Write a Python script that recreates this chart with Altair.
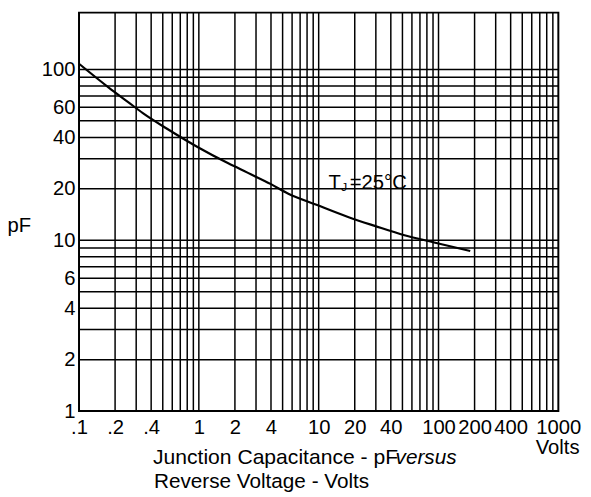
import altair as alt
import pandas as pd

# Curve (reverse voltage in V, junction capacitance in pF)
volts = [0.1, 0.176, 0.257, 0.341, 0.547, 1.0, 1.76, 2.57, 4.0, 5.53, 9.45, 17.8, 29.4, 52, 92, 184]
cap_pf = [108, 78.6, 64.4, 55.5, 44.8, 34.8, 28.2, 24.8, 21.3, 18.8, 16.2, 13.65, 12.14, 10.7, 9.71, 8.65]

# Log-paper grid lines
x_grid = [0.2, 0.3, 0.4, 0.5, 0.6, 0.7, 0.8, 0.9, 1,
          2, 3, 4, 5, 6, 7, 8, 9, 10,
          20, 30, 40, 50, 60, 70, 80, 90, 100,
          200, 300, 400, 500, 600, 700, 800, 900]
y_grid = [2, 3, 4, 5, 6, 7, 8, 9, 10,
          20, 30, 40, 50, 60, 70, 80, 90, 100]

# Tick labels
x_ticks = [0.1, 0.2, 0.4, 1, 2, 4, 10, 20, 40, 100, 200, 400, 1000]
y_ticks = [1, 2, 4, 6, 10, 20, 40, 60, 100]

# Annotation texts
ann_x = [12.1]
ann_y = [20]
title_line1 = ["Junction Capacitance - pF"]
title_word = ["versus"]
title_line2 = ["Reverse Voltage - Volts"]

FONT = "Liberation Sans"
FS = 20.5
W, H = 486, 404

xscale = alt.Scale(type="log", domain=[0.1, 1000], nice=False)
yscale = alt.Scale(type="log", domain=[1, 215], nice=False)

x_axis = alt.Axis(
    values=x_ticks, ticks=False, domain=False, grid=False,
    labelExpr="datum.value < 1 ? '.' + format(datum.value * 10, 'd') : format(datum.value, 'd')",
    labelFont=FONT, labelFontSize=FS, labelColor="black", labelPadding=7,
    labelBaseline="top", labelFlush=False, labelOverlap=False,
    title="Volts", titleFont=FONT, titleFontSize=FS, titleFontWeight="normal",
    titleColor="black", titleAnchor="end", titleAlign="right",
    titleBaseline="alphabetic", titleX=507, titleY=43.4,
)
y_axis = alt.Axis(
    values=y_ticks, ticks=False, domain=False, grid=False, format="d",
    labelFont=FONT, labelFontSize=FS, labelColor="black", labelPadding=4,
    labelBaseline="middle", labelFlush=False, labelOverlap=False,
    title="pF", titleFont=FONT, titleFontSize=FS, titleFontWeight="normal",
    titleColor="black", titleAngle=0, titleAlign="center",
    titleBaseline="alphabetic", titleX=-61, titleY=222.4,
)

curve_df = pd.DataFrame({"v": volts, "c": cap_pf})
xg_df = pd.DataFrame({"v": x_grid})
yg_df = pd.DataFrame({"c": y_grid})
ann_df = pd.DataFrame({"v": ann_x, "c": ann_y})

vlines = alt.Chart(xg_df).mark_rule(color="black", strokeWidth=1.5).encode(
    x=alt.X("v:Q", scale=xscale, axis=x_axis)
)
hlines = alt.Chart(yg_df).mark_rule(color="black", strokeWidth=1.5).encode(
    y=alt.Y("c:Q", scale=yscale, axis=y_axis)
)
curve = alt.Chart(curve_df).mark_line(color="black", strokeWidth=2.2, interpolate="monotone").encode(
    x=alt.X("v:Q", scale=xscale, axis=x_axis),
    y=alt.Y("c:Q", scale=yscale, axis=y_axis),
)

def ann(text, dx=0, dy=0, size=FS):
    return alt.Chart(ann_df).mark_text(
        text=text, align="left", baseline="alphabetic", font=FONT,
        fontSize=size, color="black", dx=dx, dy=dy
    ).encode(
        x=alt.X("v:Q", scale=xscale, axis=x_axis),
        y=alt.Y("c:Q", scale=yscale, axis=y_axis),
    )

t_T = ann("T")
t_J = ann("J", dx=12.8, dy=2.5, size=12)
t_rest = ann("=25°C", dx=21.5)

def label(lines, x, y, italic=False, size=21):
    return alt.Chart(pd.DataFrame({"t": lines})).mark_text(
        align="left", baseline="alphabetic", font=FONT, fontSize=size,
        color="black", fontStyle="italic" if italic else "normal"
    ).encode(x=alt.value(x), y=alt.value(y), text="t:N")

lab1 = label(title_line1, 75, 457.4, size=21.4)
lab_vs = label(title_word, 321, 457.4, italic=True)
lab2 = label(title_line2, 76, 482.4)

chart = alt.layer(vlines, hlines, curve, t_T, t_J, t_rest, lab1, lab_vs, lab2).properties(
    width=W, height=H,
    autosize=alt.AutoSizeParams(type="none"),
    padding={"left": 72, "top": 1.3, "right": 25, "bottom": 83.7},
    background="white",
).configure_view(stroke="black", strokeWidth=2)

chart.save("out.html", embed_options={"renderer": "svg", "actions": False})
